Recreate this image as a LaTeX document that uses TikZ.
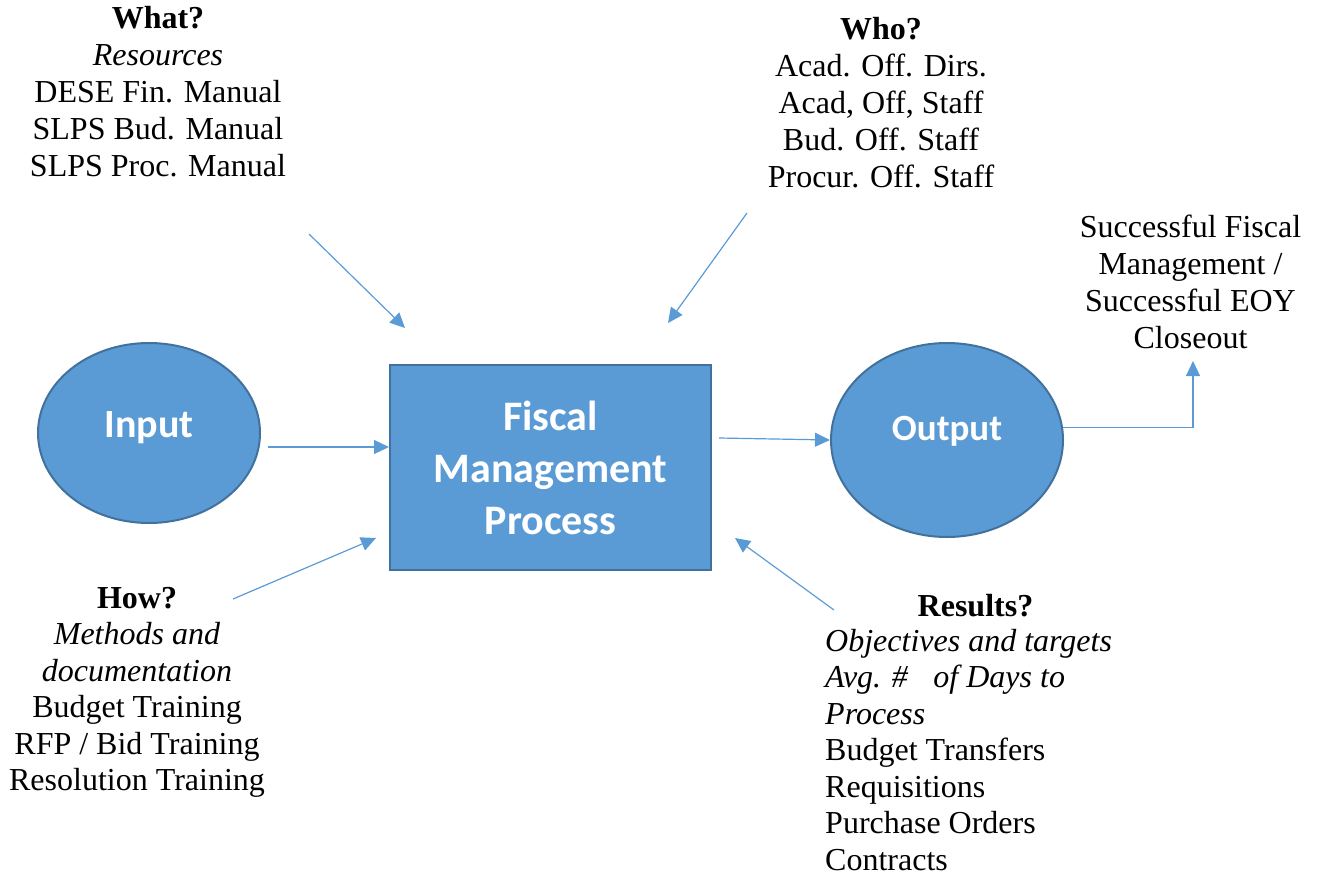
\documentclass[tikz,border=0pt]{standalone}
\usepackage{fontspec}
\setmainfont{Liberation Serif}
\newfontfamily\calibri{Carlito}
\usetikzlibrary{shapes.geometric,arrows.meta}
\definecolor{fillblue}{HTML}{5B9BD5}
\definecolor{edgeblue}{HTML}{41719C}

\begin{document}
\begin{tikzpicture}[x=1pt,y=-1pt,
    blueshape/.style={fill=fillblue,draw=edgeblue,line width=2pt,inner sep=0pt,text=white,font=\calibri\bfseries},
    flow/.style={draw=fillblue,line width=1.2pt,-{Triangle[length=15pt,width=14pt]}},
    txt/.style={inner sep=0pt,align=center,font=\fontsize{32}{37}\selectfont},
    tighttxt/.style={txt,font=\fontsize{32}{36.5}\selectfont}]
    \useasboundingbox (0,0) rectangle (1321,880);
    \node[blueshape,ellipse,minimum width=222pt,minimum height=180pt,font=\calibri\bfseries\fontsize{40}{48}\selectfont] (input) at (149,433) {\raisebox{16pt}{Input}};
    \node[blueshape,rectangle,minimum width=321pt,minimum height=205pt,align=center,font=\calibri\bfseries\fontsize{42}{52}\selectfont] (fmp) at (550.5,467.5) {Fiscal\\Management\\Process};
    \node[blueshape,ellipse,minimum width=232pt,minimum height=194pt,font=\calibri\bfseries\fontsize{37}{44}\selectfont] (output) at (947,440) {\raisebox{23pt}{Output}};
    \node[txt,anchor=north] (what) at (158,6) {\textbf{What?}\\\textit{Resources}\\DESE Fin. Manual\\SLPS Bud. Manual\\SLPS Proc. Manual};
    \node[txt,anchor=north] (who) at (881,17) {\textbf{Who?}\\Acad. Off. Dirs.\\Acad, Off, Staff\\Bud. Off. Staff\\Procur. Off. Staff};
    \node[tighttxt,anchor=north] (how) at (137,587) {\textbf{How?}\\\textit{Methods and}\\\textit{documentation}\\Budget Training\\RFP / Bid Training\\Resolution Training};
    \node[txt,anchor=base] (results) at (975.5,616) {\textbf{Results?}};
    \node[tighttxt,align=left,anchor=north west] (targets) at (825,629) {\textit{Objectives and targets}\\\textit{Avg. \#\hspace{0.8em}of Days to}\\\textit{Process}\\Budget Transfers\\Requisitions\\Purchase Orders\\Contracts};
    \node[txt,anchor=north] (success) at (1190.5,215) {Successful Fiscal\\Management /\\Successful EOY\\Closeout};
    \foreach \n/\x/\y in {inA/268/447,whatA/309/234,whatB/405/328,whoA/747/213,whoB/668/323,howA/233/599,howB/376/538,resA/834/610,resB/735/538,outA/719/438,succB/1193/361}
        \coordinate (\n) at (\x,\y);
    \draw[flow] (inA) -- (inA -| fmp.west);
    \draw[flow] (whatA) -- (whatB);
    \draw[flow] (whoA) -- (whoB);
    \draw[flow] (howA) -- (howB);
    \draw[flow] (resA) -- (resB);
    \draw[flow] (outA) -- (output.west);
    \draw[flow] (output.6) -| (succB);
\end{tikzpicture}
\end{document}
